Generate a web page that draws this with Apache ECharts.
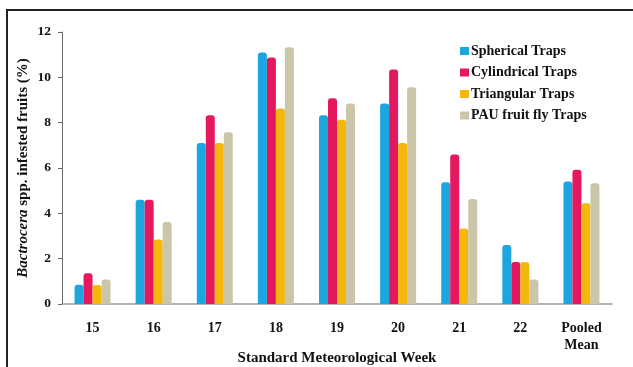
<!DOCTYPE html>
<html>
<head>
<meta charset="utf-8">
<script src="https://cdn.jsdelivr.net/npm/echarts@6/dist/echarts.min.js"></script>
<style>html,body{margin:0;padding:0;background:#fff}#c{width:633px;height:367px}</style>
</head>
<body>
<div id="c"></div>
<script>
const categories = ['15','16','17','18','19','20','21','22','Pooled\nMean'];
const spherical   = [0.85, 4.6, 7.1, 11.1, 8.33, 8.85, 5.37, 2.6, 5.4];
const cylindrical = [1.36, 4.6, 8.33, 10.88, 9.08, 10.35, 6.6, 1.85, 5.92];
const triangular  = [0.84, 2.85, 7.1, 8.62, 8.13, 7.1, 3.33, 1.85, 4.45];
const pau         = [1.08, 3.62, 7.58, 11.33, 8.85, 9.56, 4.63, 1.08, 5.33];
const seriesNames = ['Spherical Traps','Cylindrical Traps','Triangular Traps','PAU fruit fly Traps'];
const colors = ['#1ca6df','#e5175f','#f6b70c','#cbc5a9'];
const yTicks = [0,2,4,6,8,10,12];

const font = '"Liberation Serif", "DejaVu Serif", serif';
const chart = echarts.init(document.getElementById('c'));
const data = [spherical, cylindrical, triangular, pau];
chart.setOption({
  animation: false,
  textStyle: {fontFamily: font},
  grid: {left: 62, right: 21, top: 32, bottom: 63, outerBoundsMode: 'none', containLabel: false},
  legend: {
    orient: 'vertical', left: 455, top: 39, itemWidth: 9, itemHeight: 8, itemGap: 7.5,
    icon: 'rect',
    textStyle: {fontFamily: font, fontWeight: 'bold', fontSize: 14, color: '#111', padding: [0,0,0,-3]},
    data: seriesNames
  },
  xAxis: {
    type: 'category', data: categories,
    axisLine: {lineStyle: {color: '#999', width: 1.5}},
    axisTick: {show: false},
    axisLabel: {fontFamily: font, fontWeight: 'bold', fontSize: 14, color: '#111', margin: 16, lineHeight: 17},
    name: 'Standard Meteorological Week', nameLocation: 'middle', nameGap: 47, nameMoveOverlap: false,
    nameTextStyle: {fontFamily: font, fontWeight: 'bold', fontSize: 15, color: '#111'}
  },
  yAxis: {
    type: 'value', min: yTicks[0], max: yTicks[yTicks.length-1], interval: 2,
    axisLine: {show: true, lineStyle: {color: '#666', width: 1}},
    axisTick: {show: true, length: 4, lineStyle: {color: '#666'}},
    splitLine: {show: false},
    axisLabel: {fontFamily: font, fontWeight: 'bold', fontSize: 13.5, color: '#111', margin: 11},
    name: '{i|Bactrocera} spp. infested fruits (%)', nameLocation: 'middle', nameGap: 31, nameRotate: 90, nameMoveOverlap: false,
    nameTextStyle: {fontFamily: font, fontWeight: 'bold', fontSize: 15, color: '#111',
      rich: {i: {fontFamily: font, fontWeight: 'bold', fontStyle: 'italic', fontSize: 15, color: '#111'}}}
  },
  series: seriesNames.map((n, i) => ({
    name: n, type: 'bar', data: data[i], barWidth: 9, barGap: '0%',
    itemStyle: {color: colors[i], borderRadius: [3,3,0,0]}
  })),
  graphic: [{
    type: 'rect', shape: {x: 7, y: 10, width: 640, height: 370},
    style: {fill: 'none', stroke: '#222', lineWidth: 2}, silent: true
  }]
});
</script>
</body>
</html>
